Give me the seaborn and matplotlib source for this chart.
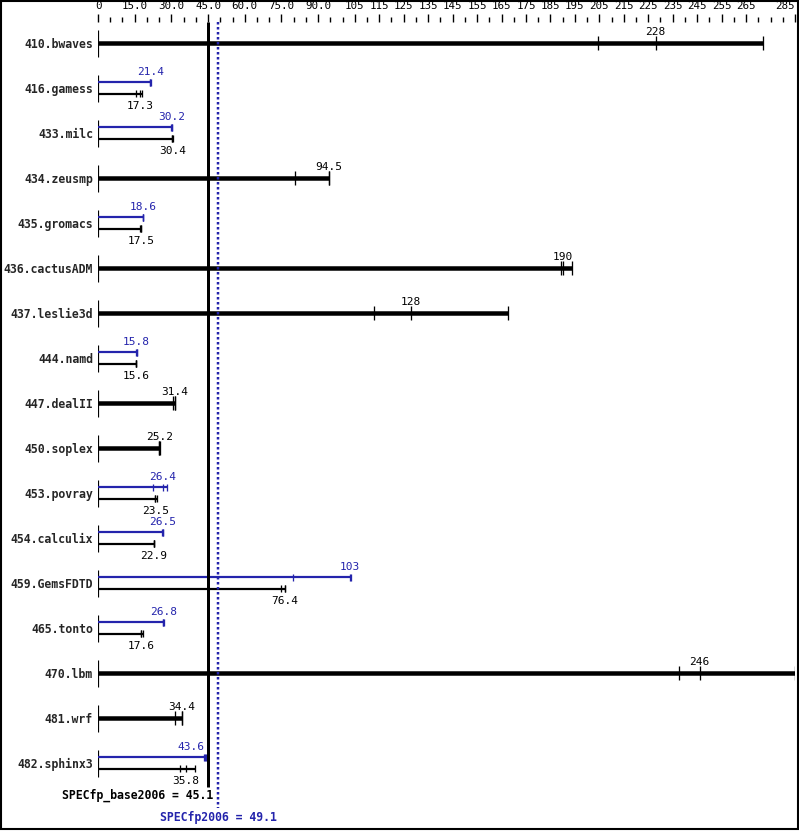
import matplotlib
matplotlib.use("Agg")
import matplotlib.pyplot as plt
from matplotlib.patches import Rectangle
import numpy as np
import pandas as pd
import seaborn as sns

# benchmarks, reported scores and individual run values
names = ["410.bwaves", "416.gamess", "433.milc", "434.zeusmp", "435.gromacs",
         "436.cactusADM", "437.leslie3d", "444.namd", "447.dealII", "450.soplex",
         "453.povray", "454.calculix", "459.GemsFDTD", "465.tonto", "470.lbm",
         "481.wrf", "482.sphinx3"]
base_score = [228, 17.3, 30.4, 94.5, 17.5, 190, 128, 15.6, 31.4, 25.2,
              23.5, 22.9, 76.4, 17.6, 246, 34.4, 35.8]
base_runs = [[204.4, 228, 272], [15.6, 17.3, 17.9], [30.4, 30.4, 30.5],
             [80.7, 94.5, 94.6], [17.3, 17.4, 17.5], [189.3, 190, 193.9],
             [113, 128, 167.7], [15.4, 15.5, 15.6], [30.5, 31.3, 31.4],
             [25.0, 25.1, 25.2], [23.3, 23.5, 24.0], [22.8, 22.9, 22.9],
             [74.8, 76.4, 76.5], [17.4, 17.6, 18.3], [237.7, 246, 285],
             [31.6, 34.2, 34.4], [33.7, 35.8, 39.8]]
# None = peak equals base (drawn as one thick bar)
peak_score = [None, 21.4, 30.2, None, 18.6, None, None, 15.8, None, None,
              26.4, 26.5, 103, 26.8, None, None, 43.6]
peak_runs = [None, [21.2, 21.4, 21.7], [30.0, 30.1, 30.2], None, [18.4, 18.5, 18.6],
             None, None, [15.7, 15.8, 15.8], None, None, [22.6, 26.4, 28.2],
             [26.3, 26.4, 26.5], [79.7, 103, 103.4], [26.6, 26.7, 26.8], None,
             None, [43.4, 43.6, 44.2]]
base_total = 45.1
peak_total = 49.1

tick_labels = [0, 15, 30, 45, 60, 75, 90, 105] + list(range(115, 275, 10)) + [285]
tick_text = ["0", "15.0", "30.0", "45.0", "60.0", "75.0", "90.0"] + [str(v) for v in tick_labels[7:]]

BLUE = "#2424ac"
px = 0.72  # one pixel in points

sns.set_theme(style="white")
plt.rcParams["font.family"] = ["DejaVu Sans Mono", "DejaVu Sans"]

fig = plt.figure(figsize=(7.99, 8.31), dpi=100)
ax = fig.add_axes([98 / 799, 0, 697 / 799, (831 - 22) / 831])
ax.set_xlim(0, 285)
ax.set_ylim((831 - 43) / 45, (22 - 43) / 45)
for s in ax.spines.values():
    s.set_visible(False)

rows = []
for i, n in enumerate(names):
    if peak_score[i] is None:
        rows.append(dict(y=i, score=base_score[i], runs=base_runs[i], color="black",
                         lw=4.5 * px, th=0.145, ty=-0.25))
    else:
        rows.append(dict(y=i - 0.13, score=peak_score[i], runs=peak_runs[i], color=BLUE,
                         lw=2.2 * px, th=0.08, ty=-0.215))
        rows.append(dict(y=i + 0.13, score=base_score[i], runs=base_runs[i], color="black",
                         lw=2.2 * px, th=0.08, ty=0.27))
df = pd.DataFrame(rows)

# row start markers
ax.vlines(np.zeros(len(names)), np.arange(len(names)) - 0.29, np.arange(len(names)) + 0.31,
          color="black", lw=1.2 * px)

for _, r in df.iterrows():
    ax.hlines(r["y"], 0, max(r["runs"]), color=r["color"], lw=r["lw"], capstyle="butt")
    ax.vlines(r["runs"], r["y"] - r["th"], r["y"] + r["th"], color=r["color"], lw=1.3 * px)
    # labels that would sit on the summary line are pushed to its left
    ha = "right" if base_total - 4 < r["score"] < base_total else "center"
    ax.text(r["score"], r["y"] + r["ty"], f"{r['score']:g}", color=r["color"],
            ha=ha, va="center", fontsize=8)

# overall results
ax.vlines(base_total, (22 - 43) / 45, 16.53, color="black", lw=3 * px)
ax.vlines(peak_total, (22 - 43) / 45, 17.0, color=BLUE, lw=2.5 * px, linestyles=(0, (1, 1)))
ax.text(base_total + 2.2, 16.71, f"SPECfp_base2006 = {base_total}", ha="right", va="center",
        fontsize=8.3, fontweight="bold", color="black")
ax.text(peak_total, 17.2, f"SPECfp2006 = {peak_total}", ha="center", va="center",
        fontsize=8.3, fontweight="bold", color=BLUE)

ax.set_yticks(range(len(names)))
ax.set_yticklabels(names, fontsize=8.3, fontweight="bold")
ax.tick_params(axis="y", length=0, pad=3.6)

ax.xaxis.tick_top()
ax.set_xticks(tick_labels)
ax.set_xticklabels(tick_text, fontsize=7.8)
ax.set_xticks(np.arange(0, 286, 5), minor=True)
ax.tick_params(axis="x", which="major", length=6, width=1, pad=2.2, direction="out", colors="black")
ax.tick_params(axis="x", which="minor", length=3.6, width=1, direction="out", color="black")
ax.get_xticklabels()[-1].set_ha("right")

fig.patches.append(Rectangle((0.0008, 0.0025), 0.9975, 0.9965, transform=fig.transFigure,
                             fill=False, edgecolor="black", lw=1.5))

fig.savefig("out.png", dpi=100)
